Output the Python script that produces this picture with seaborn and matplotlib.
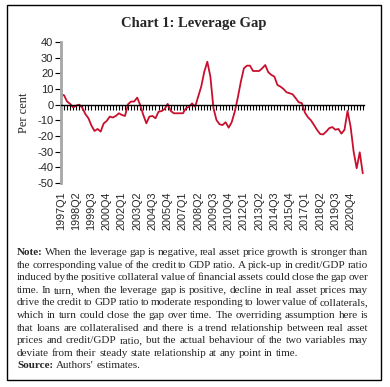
import matplotlib
matplotlib.use("Agg")
import matplotlib.pyplot as plt
import seaborn as sns
import pandas as pd
from matplotlib.patches import Rectangle

sns.set_style("white")
plt.rcParams['font.family'] = ['Liberation Sans', 'DejaVu Sans']

# ---------------- data ----------------
years = list(range(1997, 2022))
quarters = [f"{y}Q{q}" for y in years for q in range(1, 5)]  # 1997Q1 .. 2021Q4

leverage_gap = [
    6.5, 6.0, 2.0, 0.5, -1.8, -0.6, 0.0, -2.0, -6.0, -8.7,
    -13.4, -16.8, -15.5, -17.2, -12.0, -10.4, -7.6, -8.2, -7.2, -5.5,
    -6.6, -7.2, 0.3, 2.0, 2.0, 4.5, -0.3, -6.6, -11.9, -7.6,
    -7.2, -8.7, -4.5, -4.1, -2.8, 0.5, -4.0, -5.5, -5.5, -5.5,
    -5.5, -2.3, -1.3, 0.8, -1.3, 5.1, 11.5, 21.0, 27.4, 18.0,
    -2.0, -9.8, -12.5, -13.0, -11.2, -14.7, -11.2, -4.5, 4.5, 14.7,
    23.2, 24.9, 24.9, 21.5, 21.5, 21.5, 23.2, 25.3, 20.7, 19.0,
    17.9, 12.6, 11.5, 10.0, 7.9, 7.3, 6.6, 4.1, 1.5, 1.0,
    -5.0, -8.0, -10.0, -13.0, -16.1, -18.7, -19.0, -17.2, -15.0, -14.3,
    -16.0, -15.5, -18.5, -16.0, -4.0, -14.0, -30.0, -40.6, -30.4, -43.8,
]

tick_labels = ["1997Q1", "1998Q2", "1999Q3", "2000Q4", "2002Q1", "2003Q2",
               "2004Q3", "2005Q4", "2007Q1", "2008Q2", "2009Q3", "2010Q4",
               "2012Q1", "2013Q2", "2014Q3", "2015Q4", "2017Q1", "2018Q2",
               "2019Q3", "2020Q4"]
y_ticks = [40, 30, 20, 10, 0, -10, -20, -30, -40, -50]

title = "Chart 1: Leverage Gap"
y_label = "Per cent"
note_lines = [
    "When the leverage gap is negative, real asset price growth is stronger than",
    "the corresponding value of the credit to GDP ratio. A pick-up in credit/GDP ratio",
    "induced by the positive collateral value of financial assets could close the gap over",
    "time. In turn, when the leverage gap is positive, decline in real asset prices may",
    "drive the credit to GDP ratio to moderate responding to lower value of collaterals,",
    "which in turn could close the gap over time. The overriding assumption here is",
    "that loans are collateralised and there is a trend relationship between real asset",
    "prices and credit/GDP ratio, but the actual behaviour of the two variables may",
    "deviate from their steady state relationship at any point in time.",
]
source_text = "Authors' estimates."

df = pd.DataFrame({"quarter": quarters, "pos": range(len(quarters)), "gap": leverage_gap})

# ---------------- figure ----------------
W, H = 390, 387
fig = plt.figure(figsize=(W / 100, H / 100), dpi=100)
fig.patch.set_facecolor("white")

def fx(px):
    return px / W

def fy(py):
    return 1 - py / H

ax_l, ax_r, ax_t, ax_b = 61, 364, 42, 183
ax = fig.add_axes([fx(ax_l), fy(ax_b), (ax_r - ax_l) / W, (ax_b - ax_t) / H])
ax.set_facecolor("white")

sns.lineplot(data=df, x="pos", y="gap", color="#C8102E", linewidth=1.3, ax=ax)

ax.set_xlim(0, 99.4)
ax.set_ylim(-50, 40)
ax.set_xlabel("")
ax.set_ylabel(y_label, family="Liberation Serif", fontsize=9, labelpad=5)

for s in ["top", "right"]:
    ax.spines[s].set_visible(False)
ax.spines["left"].set_color("#A6A6A6")
ax.spines["left"].set_linewidth(2)
ax.spines["bottom"].set_position(("data", 0))
ax.spines["bottom"].set_color("black")
ax.spines["bottom"].set_linewidth(1.0)

ax.set_yticks(y_ticks)
ax.set_yticklabels([str(v) for v in y_ticks])
ax.tick_params(axis="y", direction="out", length=4, width=0.8, color="black",
               labelsize=8, pad=1.5, left=True)
ax.set_xticks(range(len(quarters)))
ax.tick_params(axis="x", direction="out", length=3.5, width=0.8, color="black",
               labelbottom=False, bottom=True)

sec = ax.secondary_xaxis("bottom")
sec.set_xticks(list(range(0, 96, 5)))
sec.set_xticklabels(tick_labels, rotation=90)
sec.tick_params(axis="x", length=0, pad=6, labelsize=7.8)
sec.spines["bottom"].set_visible(False)

# title
fig.text(fx(194), fy(23), title, ha="center", va="center", fontsize=10.5,
         fontweight="bold", family="Liberation Serif")

# border
fig.patches.append(Rectangle((fx(7), fy(380)), (381 - 7) / W, (380 - 5) / H,
                             transform=fig.transFigure, fill=False,
                             edgecolor="black", linewidth=1.0))

# justified note text
renderer = fig.canvas.get_renderer()
FS = 8.0
x0, x1 = 17, 368
base0, step = 255, 12.6

def place_line(yb, segments, justify):
    texts, widths = [], []
    for w, b in segments:
        t = fig.text(0, fy(yb), w, fontsize=FS, fontweight="bold" if b else "normal",
                     family="Liberation Serif", ha="left", va="baseline")
        texts.append(t)
        widths.append(t.get_window_extent(renderer).width)
    n = len(texts)
    if justify and n > 1:
        gap = (x1 - x0 - sum(widths)) / (n - 1)
    else:
        gap = FS * 100 / 72 * 0.25
    x = x0
    for t, wd in zip(texts, widths):
        t.set_x(fx(x))
        x += wd + gap

for i, line in enumerate(note_lines):
    segs = [(w, False) for w in line.split()]
    if i == 0:
        segs = [("Note:", True)] + segs
    place_line(base0 + i * step, segs, justify=(i < len(note_lines) - 1))

place_line(base0 + len(note_lines) * step,
           [("Source:", True)] + [(w, False) for w in source_text.split()], justify=False)

fig.savefig("out.png", dpi=100, facecolor="white")
